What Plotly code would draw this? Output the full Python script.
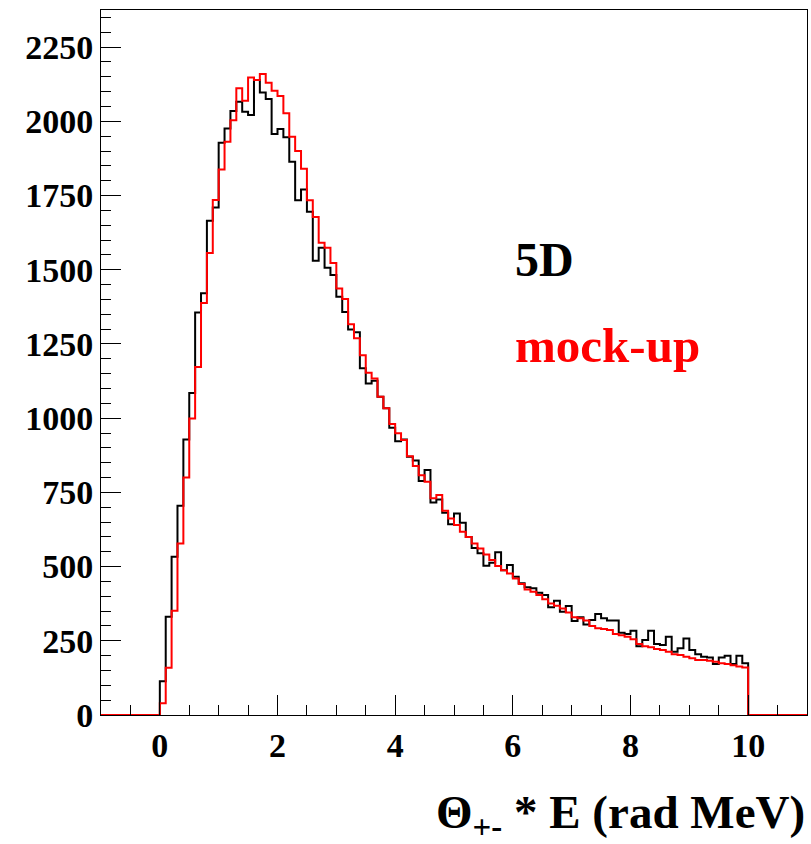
import numpy as np
import plotly.graph_objects as go

# Histogram definition: 0.1-wide bins from 0 to 10, axis shown from -1 to 11
bin_lo, bin_hi, bin_w = 0.0, 10.0, 0.1

counts_5d = [114, 331, 533, 705, 928, 1085, 1356, 1421, 1665, 1710,
             1928, 1976, 2035, 2066, 2032, 2021, 2139, 2097, 2075, 1957,
             1974, 1946, 1864, 1734, 1770, 1695, 1530, 1574, 1507, 1482,
             1409, 1358, 1299, 1289, 1168, 1117, 1126, 1072, 1033, 968,
             922, 928, 870, 857, 788, 825, 716, 726, 681, 643,
             679, 648, 600, 563, 545, 503, 513, 548, 488, 505,
             466, 444, 430, 427, 412, 404, 363, 385, 348, 367,
             317, 329, 305, 320, 340, 326, 318, 318, 277, 273,
             284, 232, 253, 284, 239, 236, 264, 213, 225, 258,
             219, 205, 196, 194, 172, 194, 200, 172, 200, 174]

counts_mock = [40, 159, 351, 578, 800, 999, 1172, 1388, 1556, 1735,
               1838, 1931, 2004, 2111, 2069, 2148, 2139, 2159, 2130, 2103,
               2085, 2027, 1948, 1900, 1840, 1734, 1678, 1591, 1574, 1523,
               1437, 1401, 1316, 1269, 1212, 1153, 1134, 1072, 1033, 980,
               949, 926, 872, 839, 808, 786, 730, 741, 688, 662,
               640, 617, 600, 578, 561, 541, 522, 502, 488, 477,
               460, 441, 423, 415, 404, 390, 376, 368, 359, 345,
               329, 326, 318, 300, 292, 290, 286, 273, 269, 264,
               255, 239, 232, 228, 222, 219, 213, 205, 202, 196,
               191, 185, 185, 183, 179, 174, 172, 168, 163, 160]

x_range = [-1, 11]
y_range = [0, 2375]
y_ticks = [0, 250, 500, 750, 1000, 1250, 1500, 1750, 2000, 2250]
x_ticks = [0, 2, 4, 6, 8, 10]

n_pad = int(round(1.0 / bin_w))
edges = np.round(np.arange(x_range[0], x_range[1] + bin_w / 2, bin_w), 6)


def step_xy(counts):
    c = [0] * n_pad + list(counts) + [0] * n_pad
    y = c + [c[-1]]
    return edges, y


FONT = "Liberation Serif"
TICK_SIZE = 34

fig = go.Figure()
for counts, color in [(counts_5d, "black"), (counts_mock, "#ff0000")]:
    xs, ys = step_xy(counts)
    fig.add_trace(go.Scatter(x=xs, y=ys, mode="lines", line_shape="hv",
                             line=dict(color=color, width=2),
                             showlegend=False, hoverinfo="skip"))

fig.update_layout(
    width=811, height=844,
    margin=dict(l=101, r=4, t=10, b=129),
    paper_bgcolor="white", plot_bgcolor="white",
    font=dict(family=FONT, size=TICK_SIZE, color="black"),
)
fig.update_xaxes(
    range=x_range, tickvals=x_ticks, ticks="inside", ticklen=20, tickwidth=1,
    tickcolor="black", showgrid=False, zeroline=False,
    showline=True, linecolor="black", linewidth=1, mirror=True,
    tickfont=dict(family=FONT, size=TICK_SIZE, color="black", weight="bold"),
    minor=dict(dtick=0.5, tick0=0, ticks="inside", ticklen=10, tickcolor="black", showgrid=False),
)
fig.update_yaxes(
    range=y_range, tickvals=y_ticks, ticks="inside", ticklen=20, tickwidth=1,
    tickcolor="black", showgrid=False, zeroline=False,
    showline=True, linecolor="black", linewidth=1, mirror=True,
    tickfont=dict(family=FONT, size=TICK_SIZE, color="black", weight="bold"),
    minor=dict(dtick=50, tick0=0, ticks="inside", ticklen=10, tickcolor="black", showgrid=False),
)

fig.add_annotation(x=6.0, y=1535, xref="x", yref="y", text="<b>5D</b>",
                   showarrow=False, xanchor="left", yanchor="middle",
                   font=dict(family=FONT, size=48, color="black"))
fig.add_annotation(x=6.0, y=1245, xref="x", yref="y", text="<b>mock-up</b>",
                   showarrow=False, xanchor="left", yanchor="middle",
                   font=dict(family=FONT, size=49, color="#ff0000"))
fig.add_annotation(x=1.0, y=-0.142, xref="paper", yref="paper",
                   text="<b>Θ<sub>+-</sub> * E (rad MeV)</b>",
                   showarrow=False, xanchor="right", yanchor="middle",
                   font=dict(family=FONT, size=47, color="black"))

fig.write_html("out.html",
               config={"displayModeBar": False},
               post_script="document.body.style.margin='0px';"
                           "document.body.style.overflow='hidden';")
